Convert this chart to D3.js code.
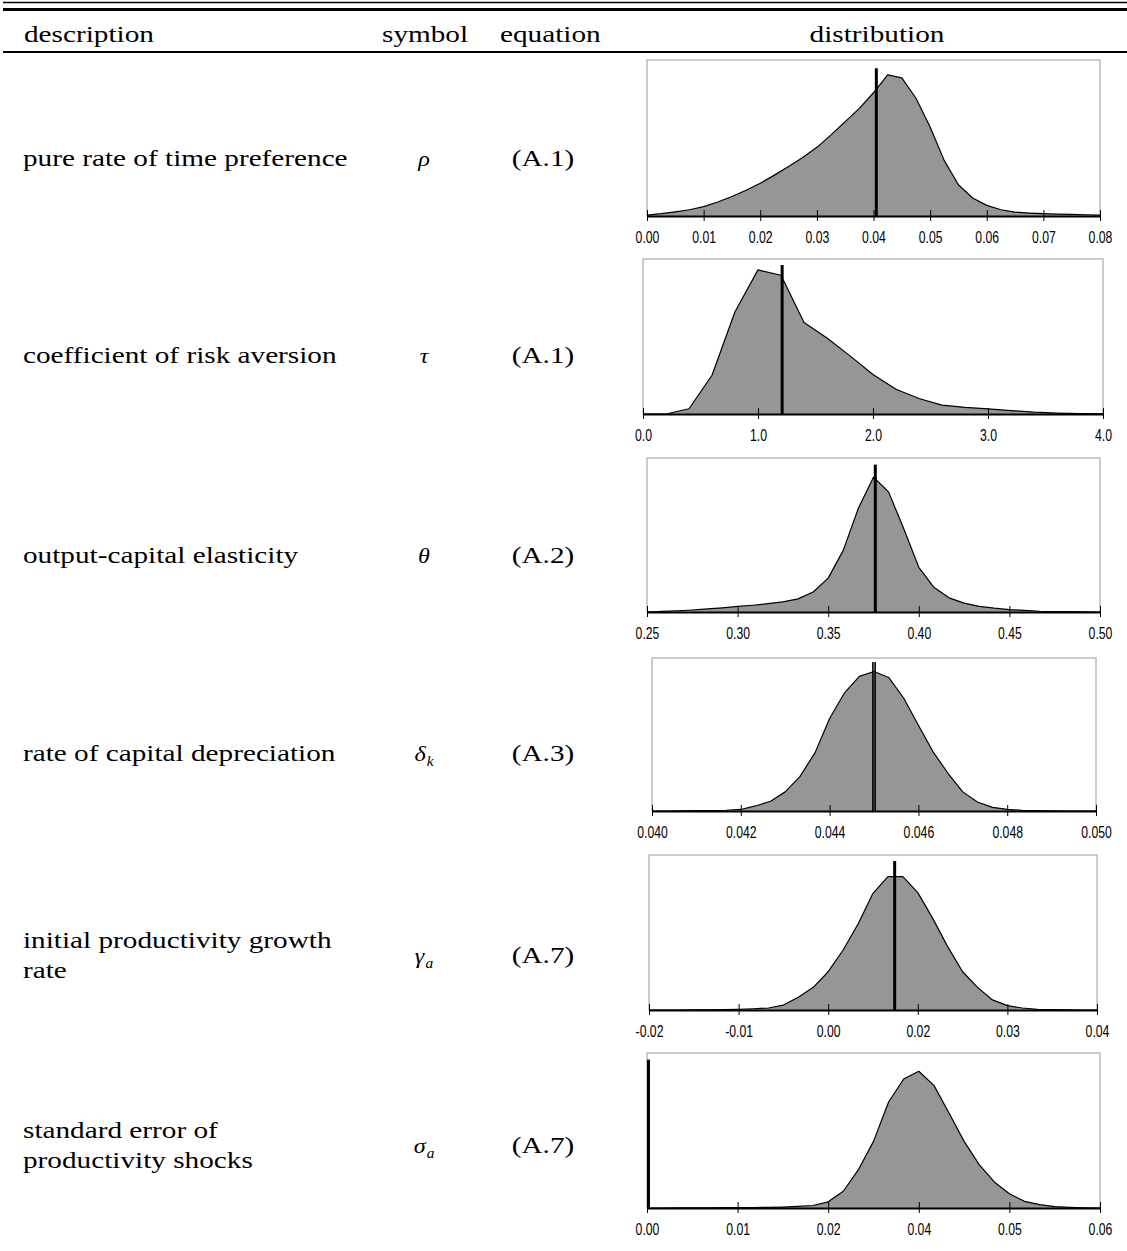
<!DOCTYPE html>
<html>
<head>
<meta charset="utf-8">
<script src="https://cdn.jsdelivr.net/npm/d3@7"></script>
<style>
  html, body { margin: 0; padding: 0; background: #fff; }
  svg { display: block; }
</style>
</head>
<body>
<svg id="chart" width="1127" height="1251"></svg>
<script>
// ---- Table content ----
const headers = ["description", "symbol", "equation", "distribution"];
const descriptions = [
  ["pure rate of time preference"],
  ["coefficient of risk aversion"],
  ["output-capital elasticity"],
  ["rate of capital depreciation"],
  ["initial productivity growth", "rate"],
  ["standard error of", "productivity shocks"]
];
const symbols = ["ρ", "τ", "θ", "δ", "γ", "σ"];
const symbolSubscripts = ["", "", "", "k", "a", "a"];
const equations = ["(A.1)", "(A.1)", "(A.2)", "(A.3)", "(A.7)", "(A.7)"];

// ---- Distributions (relative density, 1 = full panel height) ----
// pure rate of time preference
const rhoX = [0, 0.0025, 0.005, 0.0075, 0.01, 0.0125, 0.015, 0.0175, 0.02, 0.0225, 0.025, 0.0275,
  0.03, 0.0325, 0.035, 0.0375, 0.04, 0.0425, 0.045, 0.0475, 0.05, 0.0525, 0.055, 0.0575,
  0.06, 0.0625, 0.065, 0.0675, 0.07, 0.0725, 0.075, 0.0775, 0.08];
const rhoDensity = [0.006, 0.015, 0.027, 0.040, 0.060, 0.090, 0.125, 0.165, 0.210, 0.262, 0.318, 0.375,
  0.440, 0.520, 0.605, 0.690, 0.790, 0.905, 0.885, 0.755, 0.570, 0.355, 0.200, 0.115,
  0.068, 0.040, 0.025, 0.019, 0.015, 0.012, 0.010, 0.008, 0.006];

// coefficient of risk aversion
const tauX = [0, 0.2, 0.4, 0.6, 0.8, 1.0, 1.2, 1.4, 1.6, 1.8, 2.0, 2.2, 2.4, 2.6, 2.8, 3.0,
  3.2, 3.4, 3.6, 3.8, 4.0];
const tauDensity = [0, 0, 0.034, 0.250, 0.660, 0.930, 0.895, 0.590, 0.490, 0.375, 0.255, 0.160,
  0.100, 0.057, 0.043, 0.033, 0.022, 0.012, 0.006, 0.003, 0.001];

// output-capital elasticity
const thetaX = [0.25, 0.2583, 0.2667, 0.275, 0.2833, 0.2917, 0.30, 0.3083, 0.3167, 0.325, 0.3333,
  0.3417, 0.35, 0.3583, 0.3667, 0.375, 0.3833, 0.3917, 0.40, 0.4083, 0.4167, 0.425, 0.4333,
  0.4417, 0.45, 0.4583, 0.4667, 0.475, 0.4833, 0.4917, 0.50];
const thetaDensity = [0, 0.004, 0.008, 0.013, 0.020, 0.027, 0.036, 0.044, 0.054, 0.066, 0.085,
  0.130, 0.220, 0.400, 0.675, 0.875, 0.780, 0.540, 0.290, 0.160, 0.092, 0.058, 0.037,
  0.025, 0.016, 0.010, 0.005, 0.003, 0.002, 0.001, 0];

// rate of capital depreciation
const deltaX = [0.04, 0.04033, 0.04067, 0.041, 0.04133, 0.04167, 0.042, 0.04233, 0.04267, 0.043,
  0.04333, 0.04367, 0.044, 0.04433, 0.04467, 0.045, 0.04533, 0.04567, 0.046, 0.04633, 0.04667,
  0.047, 0.04733, 0.04767, 0.048, 0.04833, 0.04867, 0.049, 0.04933, 0.04967, 0.05];
const deltaDensity = [0, 0, 0.001, 0.002, 0.003, 0.005, 0.010, 0.033, 0.064, 0.125,
  0.225, 0.380, 0.605, 0.770, 0.880, 0.912, 0.873, 0.737, 0.560, 0.387, 0.245,
  0.125, 0.059, 0.024, 0.011, 0.004, 0.002, 0.001, 0, 0, 0];

// initial productivity growth rate
const gammaX = [-0.02, -0.018, -0.016, -0.014, -0.012, -0.01, -0.008, -0.006, -0.004, -0.002,
  0, 0.002, 0.004, 0.006, 0.008, 0.01, 0.012, 0.014, 0.016, 0.018, 0.02, 0.022, 0.024,
  0.026, 0.028, 0.03, 0.032, 0.034, 0.036, 0.038, 0.04];
const gammaDensity = [0, 0, 0, 0.001, 0.001, 0.002, 0.004, 0.008, 0.013, 0.032,
  0.082, 0.146, 0.247, 0.387, 0.555, 0.753, 0.860, 0.860, 0.757, 0.591, 0.409, 0.247, 0.146,
  0.065, 0.028, 0.013, 0.004, 0.002, 0.001, 0, 0];

// standard error of productivity shocks
const sigmaX = [0, 0.002, 0.004, 0.006, 0.008, 0.01, 0.012, 0.014, 0.016, 0.018, 0.02, 0.022,
  0.024, 0.026, 0.028, 0.03, 0.032, 0.034, 0.036, 0.038, 0.04, 0.042, 0.044, 0.046, 0.048,
  0.05, 0.052, 0.054, 0.056, 0.058, 0.06];
const sigmaDensity = [0, 0, 0.001, 0.001, 0.001, 0.002, 0.002, 0.003, 0.004, 0.006, 0.010, 0.016,
  0.040, 0.108, 0.247, 0.430, 0.684, 0.832, 0.882, 0.791, 0.613, 0.430, 0.280, 0.168, 0.092,
  0.043, 0.022, 0.009, 0.004, 0.001, 0];

// Calibrated values (vertical markers; the depreciation panel carries a pair) and marker heights
const markerValues = [[0.0405], [1.21], [0.376], [0.044975, 0.045025], [0.0129], [0.0002]];
const markerHeights = [0.947, 0.961, 0.957, 0.974, 0.961, 0.957];

// Axis domains and ticks
const xDomains = [[0, 0.08], [0, 4], [0.25, 0.5], [0.04, 0.05], [-0.02, 0.04], [0, 0.06]];
const tickValues = [
  [0, 0.01, 0.02, 0.03, 0.04, 0.05, 0.06, 0.07, 0.08],
  [0, 1, 2, 3, 4],
  [0.25, 0.30, 0.35, 0.40, 0.45, 0.50],
  [0.040, 0.042, 0.044, 0.046, 0.048, 0.050],
  [-0.02, -0.008, 0.004, 0.016, 0.028, 0.04],
  [0, 0.012, 0.024, 0.036, 0.048, 0.06]
];
const tickLabels = [
  ["0.00", "0.01", "0.02", "0.03", "0.04", "0.05", "0.06", "0.07", "0.08"],
  ["0.0", "1.0", "2.0", "3.0", "4.0"],
  ["0.25", "0.30", "0.35", "0.40", "0.45", "0.50"],
  ["0.040", "0.042", "0.044", "0.046", "0.048", "0.050"],
  ["-0.02", "-0.01", "0.00", "0.02", "0.03", "0.04"],
  ["0.00", "0.01", "0.02", "0.04", "0.05", "0.06"]
];

const seriesX = [rhoX, tauX, thetaX, deltaX, gammaX, sigmaX];
const seriesDensity = [rhoDensity, tauDensity, thetaDensity, deltaDensity, gammaDensity, sigmaDensity];

// ---- Layout ----
const panelBoxes = [
  { left: 647, right: 1100, top: 60, bottom: 216 },
  { left: 643, right: 1103, top: 259, bottom: 414 },
  { left: 647, right: 1100, top: 458, bottom: 612 },
  { left: 652, right: 1096, top: 658, bottom: 811 },
  { left: 649, right: 1097, top: 855, bottom: 1010 },
  { left: 647, right: 1100, top: 1053, bottom: 1208 }
];
const rowLineBaselines = [[166], [363], [563], [761], [948, 978], [1138, 1168]];
const rowCenterBaselines = [166, 363, 563, 761, 963, 1153];

const SERIF = "'Liberation Serif', 'Times New Roman', serif";
const SANS = "'Liberation Sans', Arial, sans-serif";
const SERIF_SIZE = 22.5;
const SERIF_STRETCH = 1.3;
const TICK_SIZE = 17;
const TICK_STRETCH = 0.72;

const svg = d3.select("#chart");

// Rules of the table
const rules = svg.append("g").attr("class", "rules");
rules.append("line").attr("x1", 3).attr("x2", 1127).attr("y1", 2.5).attr("y2", 2.5)
  .attr("stroke", "#000").attr("stroke-width", 1.5);
rules.append("line").attr("x1", 3).attr("x2", 1127).attr("y1", 9.5).attr("y2", 9.5)
  .attr("stroke", "#000").attr("stroke-width", 3);
rules.append("line").attr("x1", 3).attr("x2", 1127).attr("y1", 52).attr("y2", 52)
  .attr("stroke", "#000").attr("stroke-width", 2);

function serifText(parent, str, x, y, anchor) {
  return parent.append("text")
    .attr("transform", `translate(${x},${y}) scale(${SERIF_STRETCH},1)`)
    .attr("text-anchor", anchor)
    .style("font-family", SERIF)
    .style("font-size", SERIF_SIZE + "px")
    .attr("fill", "#000")
    .text(str);
}

// Header
const head = svg.append("g").attr("class", "header");
serifText(head, headers[0], 24, 42, "start");
serifText(head, headers[1], 382, 42, "start");
serifText(head, headers[2], 500, 42, "start");
serifText(head, headers[3], 877, 42, "middle");

// Row labels
const rowsG = svg.append("g").attr("class", "rows");
descriptions.forEach((lines, i) => {
  lines.forEach((ln, j) => serifText(rowsG, ln, 23, rowLineBaselines[i][j], "start"));

  const sym = rowsG.append("text")
    .attr("transform", `translate(424,${rowCenterBaselines[i]}) scale(1.1,1)`)
    .attr("text-anchor", "middle")
    .style("font-family", SERIF)
    .style("font-size", "22px");
  sym.append("tspan").style("font-style", "italic").text(symbols[i]);
  if (symbolSubscripts[i]) {
    sym.append("tspan").style("font-style", "italic").style("font-size", "14px")
      .attr("dx", 1).attr("dy", 5).text(symbolSubscripts[i]);
  }

  serifText(rowsG, equations[i], 543, rowCenterBaselines[i], "middle");
});

// Distribution panels
panelBoxes.forEach((box, i) => {
  const g = svg.append("g").attr("class", "panel");
  const x = d3.scaleLinear().domain(xDomains[i]).range([box.left, box.right]);
  const y = d3.scaleLinear().domain([0, 1]).range([box.bottom, box.top]);
  const pts = seriesX[i].map((v, k) => [v, seriesDensity[i][k]]);

  // frame
  g.append("rect")
    .attr("x", box.left).attr("y", box.top)
    .attr("width", box.right - box.left).attr("height", box.bottom - box.top)
    .attr("fill", "none").attr("stroke", "#9a9a9a").attr("stroke-width", 1);

  // filled density
  g.append("path")
    .datum(pts)
    .attr("fill", "#969696")
    .attr("d", d3.area().x(d => x(d[0])).y0(y(0)).y1(d => y(d[1])));
  g.append("path")
    .datum(pts)
    .attr("fill", "none").attr("stroke", "#000").attr("stroke-width", 1.2)
    .attr("stroke-linejoin", "round")
    .attr("d", d3.line().x(d => x(d[0])).y(d => y(d[1])));

  // x axis
  const axis = d3.axisBottom(x)
    .tickValues(tickValues[i])
    .tickFormat((d, k) => tickLabels[i][k])
    .tickSizeOuter(0);
  const ax = g.append("g").attr("transform", `translate(0,${box.bottom})`).call(axis);
  ax.select(".domain").attr("stroke", "#000").attr("stroke-width", 2);
  ax.selectAll(".tick line").attr("y1", -6).attr("y2", 5).attr("stroke", "#000").attr("stroke-width", 1);
  ax.selectAll(".tick text")
    .attr("y", 0).attr("dy", 0)
    .attr("transform", `translate(0,27) scale(${TICK_STRETCH},1)`)
    .style("font-family", SANS)
    .style("font-size", TICK_SIZE + "px")
    .attr("fill", "#000");

  // calibrated value marker(s)
  const w = markerValues[i].length > 1 ? 1.6 : 3;
  markerValues[i].forEach(v => {
    g.append("line")
      .attr("x1", x(v)).attr("x2", x(v))
      .attr("y1", y(0)).attr("y2", y(markerHeights[i]))
      .attr("stroke", "#000").attr("stroke-width", w);
  });
});
</script>
</body>
</html>
